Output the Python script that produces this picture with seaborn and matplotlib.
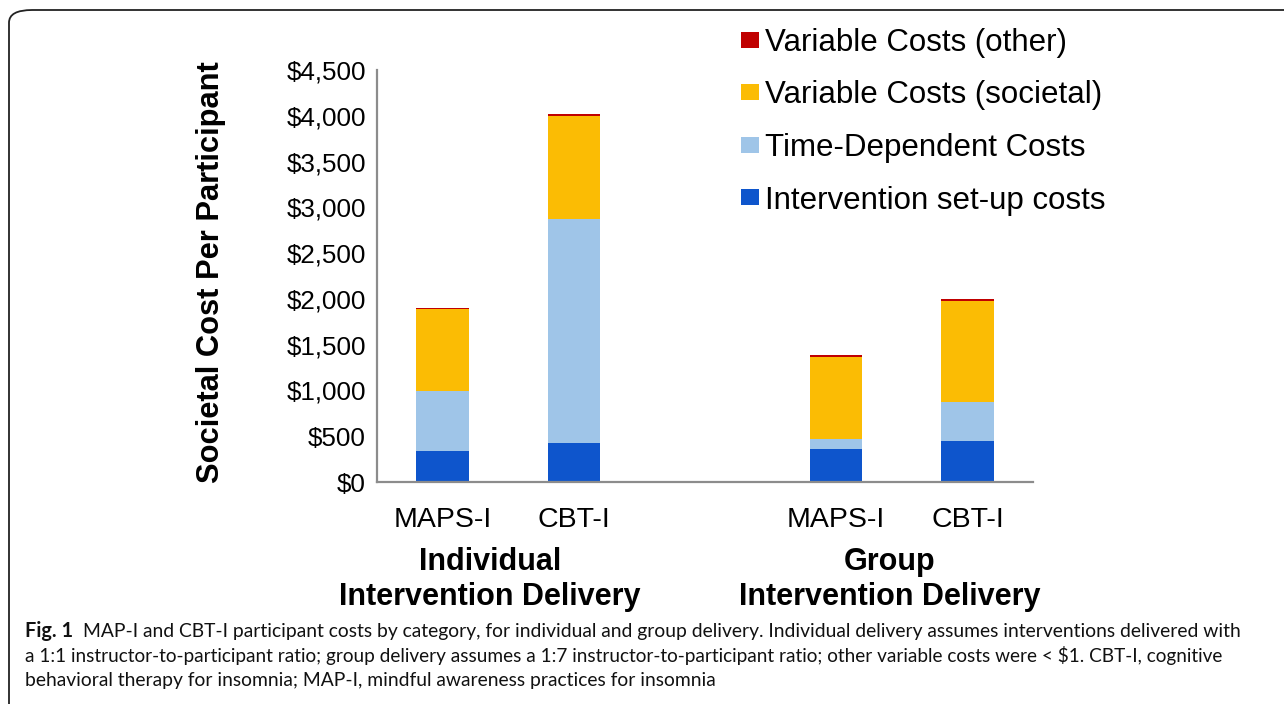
import matplotlib
matplotlib.use("Agg")
import matplotlib.pyplot as plt
import seaborn as sns
import pandas as pd
import numpy as np
from matplotlib.patches import Patch, FancyBboxPatch

# ---- data ----
bars = ["Ind MAPS-I", "Ind CBT-I", "Grp MAPS-I", "Grp CBT-I"]
tick_labels = ["MAPS-I", "CBT-I", "", "MAPS-I", "CBT-I"]
setup_costs = [340, 426, 360, 451]
time_dependent = [655, 2446, 110, 419]
variable_societal = [892, 1128, 899, 1110]
variable_other = [18, 18, 20, 20]
series_names = ["Intervention set-up costs", "Time-Dependent Costs",
                "Variable Costs (societal)", "Variable Costs (other)"]
group_labels = ["Individual\nIntervention Delivery", "Group\nIntervention Delivery"]
yticks = [0, 500, 1000, 1500, 2000, 2500, 3000, 3500, 4000, 4500]
caption_lines = [
    "MAP-I and CBT-I participant costs by category, for individual and group delivery. Individual delivery assumes interventions delivered with",
    "a 1:1 instructor-to-participant ratio; group delivery assumes a 1:7 instructor-to-participant ratio; other variable costs were < $1. CBT-I, cognitive",
    "behavioral therapy for insomnia; MAP-I, mindful awareness practices for insomnia",
]
colors = ["#0E55CC", "#9FC5E8", "#FBBC04", "#C00000"]

order = ["Ind MAPS-I", "Ind CBT-I", "gap", "Grp MAPS-I", "Grp CBT-I"]

sns.set_theme(style="white")
plt.rcParams["font.family"] = ["Liberation Sans", "DejaVu Sans"]
plt.rcParams["text.color"] = "black"
plt.rcParams["xtick.color"] = "black"
plt.rcParams["ytick.color"] = "black"
plt.rcParams["axes.labelcolor"] = "black"

fig = plt.figure(figsize=(12.84, 7.04), dpi=100)
W, H = 1284, 704
ax = fig.add_axes([377 / W, 1 - 482 / H, (1033 - 377) / W, (482 - 70) / H])

layers = [setup_costs, time_dependent, variable_societal, variable_other]
cum = np.cumsum(np.array(layers), axis=0)
df_rows = []
for i in range(len(layers)):
    for b, v in zip(bars, cum[i]):
        df_rows.append({"bar": b, "layer": i, "value": v})
df = pd.DataFrame(df_rows)

for i in reversed(range(len(layers))):
    sns.barplot(data=df[df["layer"] == i], x="bar", y="value", order=order,
                color=colors[i], saturation=1, width=0.4, ax=ax, linewidth=0,
                errorbar=None)

ax.set_ylim(0, 4500)
ax.set_xlim(-0.5, 4.5)
ax.set_yticks(yticks)
ax.set_yticklabels([f"${v:,}" for v in yticks], fontsize=18.7)
ax.set_xticks(range(5))
ax.set_xticklabels(tick_labels, fontsize=20.5)
ax.tick_params(axis="y", length=0, pad=8)
ax.tick_params(axis="x", length=0, pad=18)
ax.set_xlabel("")
ax.set_ylabel("")
for s in ["top", "right"]:
    ax.spines[s].set_visible(False)
for s in ["left", "bottom"]:
    ax.spines[s].set_color("#8C8C8C")
    ax.spines[s].set_linewidth(1.6)

fig.text(211 / W, 1 - 272 / H, "Societal Cost Per Participant", rotation=90,
         ha="center", va="center", fontsize=22.2, fontweight="bold")

for gx, lab in zip([0.36, 3.41], group_labels):
    l1, l2 = lab.split("\n")
    ax.text(gx, (482 - 562) / 412, l1, transform=ax.get_xaxis_transform(),
            ha="center", va="center", fontsize=22, fontweight="bold")
    ax.text(gx, (482 - 597) / 412, l2, transform=ax.get_xaxis_transform(),
            ha="center", va="center", fontsize=22, fontweight="bold")

handles = [Patch(facecolor=colors[i], edgecolor="none", label=series_names[i])
           for i in reversed(range(4))]
fig.legend(handles=handles, loc="upper left", bbox_to_anchor=(741 / W, 1 - 28 / H),
           frameon=False, fontsize=22.5, handlelength=0.56, handleheight=0.42,
           handletextpad=0.2, labelspacing=0.72, borderpad=0, borderaxespad=0)

# frame
frame = FancyBboxPatch((9 / W, -0.2), 1.3, 1.2 - 10 / H,
                       boxstyle="round,pad=0,rounding_size=0.018",
                       transform=fig.transFigure, fill=False,
                       edgecolor="#222222", linewidth=1.3, clip_on=False)
fig.add_artist(frame)

# caption
cap_font = ["Lato", "DejaVu Sans"]
renderer = fig.canvas.get_renderer()
x0 = 25 / W
gap_px = 10
targets = [1240, 1222, 715]
ys = [637, 662, 686]
bold = fig.text(x0, 1 - ys[0] / H, "Fig. 1", fontsize=13, fontweight="bold",
                family=cap_font, ha="left", va="baseline", color="#111111")
texts = [fig.text(x0, 1 - ys[k] / H, caption_lines[k], fontsize=13,
                  family=cap_font, ha="left", va="baseline", color="#111111")
         for k in range(3)]
for _ in range(3):
    bb = bold.get_window_extent(renderer)
    start0 = bb.x1 + gap_px
    texts[0].set_x(start0 / W)
    e = texts[0].get_window_extent(renderer)
    new_fs = texts[0].get_fontsize() * (targets[0] - start0) / (e.x1 - e.x0)
    texts[0].set_fontsize(new_fs)
    bold.set_fontsize(new_fs * 1.03)
for k in [1, 2]:
    e = texts[k].get_window_extent(renderer)
    texts[k].set_fontsize(13 * (targets[k] - 25) / (e.x1 - e.x0))

fig.savefig("out.png", dpi=100)
